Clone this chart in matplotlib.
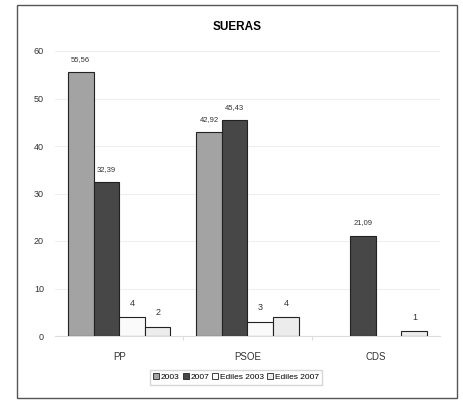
import matplotlib.pyplot as plt
import numpy as np
from matplotlib.patches import Rectangle

plt.rcParams['font.family'] = ['Liberation Sans Narrow', 'Liberation Sans', 'DejaVu Sans']

categories = ["PP", "PSOE", "CDS"]
series_names = ["2003", "2007", "Ediles 2003", "Ediles 2007"]
votes_2003 = [55.56, 42.92, 0]
votes_2007 = [32.39, 45.43, 21.09]
ediles_2003 = [4, 3, 0]
ediles_2007 = [2, 4, 1]
label_2003 = ["55,56", "42,92", ""]
label_2007 = ["32,39", "45,43", "21,09"]
label_e2003 = ["4", "3", ""]
label_e2007 = ["2", "4", "1"]

series = [votes_2003, votes_2007, ediles_2003, ediles_2007]
labels = [label_2003, label_2007, label_e2003, label_e2007]
colors = ["#a3a3a3", "#474747", "#fafafa", "#ececec"]
label_sizes = [5.5, 5.5, 6.5, 6.5]

fig = plt.figure(figsize=(4.63, 4.03), dpi=100)
fig.patches.append(Rectangle((17 / 463, 1 - 398 / 403), 440 / 463, 393 / 403,
                             transform=fig.transFigure, fill=False,
                             edgecolor="#555555", linewidth=1.0))
ax = fig.add_axes([55 / 463, 1 - 336 / 403, 385 / 463, 285 / 403])

x = np.arange(len(categories))
width = 0.2
for i, (vals, labs) in enumerate(zip(series, labels)):
    pos = x + (i - 1.5) * width
    bars = ax.bar(pos, vals, width, color=colors[i], edgecolor="#222222",
                  linewidth=0.8, label=series_names[i], zorder=3)
    for b, v, lab in zip(bars, vals, labs):
        if v == 0:
            b.set_visible(False)
        if lab:
            ax.text(b.get_x() + b.get_width() / 2, v + 2.0, lab,
                    ha="center", va="bottom", fontsize=label_sizes[i],
                    color="#333333")

ax.set_xlim(-0.5, 2.5)
ax.set_ylim(0, 60)
ax.set_yticks(range(0, 61, 10))
ax.yaxis.grid(True, color="#eeeeee", linewidth=0.8, zorder=0)
ax.set_xticks([0.5, 1.5])
ax.set_xticklabels([])
ax.tick_params(axis="x", length=3, color="#dddddd")
ax.tick_params(axis="y", length=0, labelsize=6.5, colors="#333333", pad=8)
for c, name in zip(x, categories):
    ax.text(c, -4.5, name, ha="center", va="center", fontsize=7, color="#333333")
for s in ["top", "right", "left"]:
    ax.spines[s].set_visible(False)
ax.spines["bottom"].set_color("#dddddd")

fig.text(237 / 463, 1 - 27 / 403, "SUERAS", ha="center", va="center",
         fontsize=8.5, fontweight="bold")

leg = ax.legend(loc="center", bbox_to_anchor=(0.47, -0.145), ncol=4,
                fontsize=6, frameon=True, fancybox=False, handlelength=0.7,
                handleheight=0.7, handletextpad=0.2, columnspacing=0.4,
                borderpad=0.4, edgecolor="#cccccc")
for h in leg.legend_handles:
    h.set_linewidth(0.6)

fig.savefig("out.png", dpi=100, facecolor="white")
